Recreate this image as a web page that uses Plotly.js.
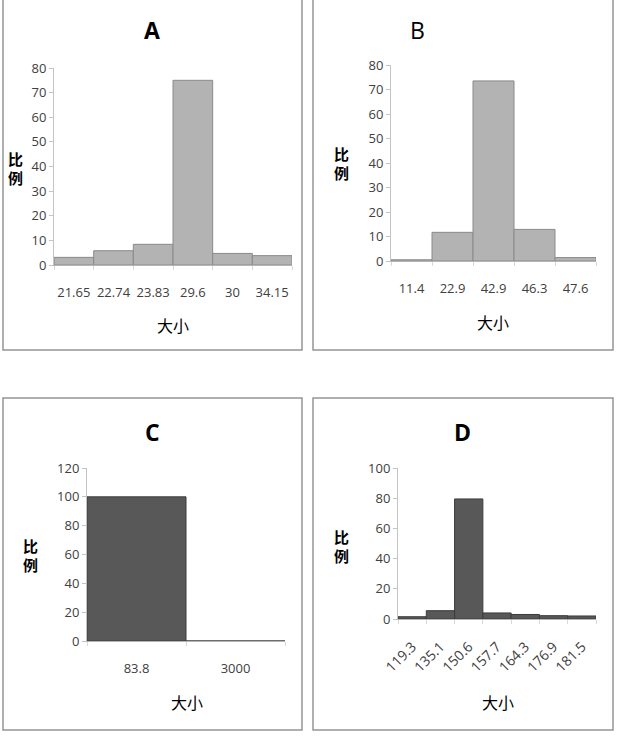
<!DOCTYPE html>
<html>
<head>
<meta charset="utf-8">
<script src="https://cdn.plot.ly/plotly-3.0.1.min.js"></script>
<style>
html,body{margin:0;padding:0;background:#fff;}
#chart{width:619px;height:737px;}
</style>
</head>
<body>
<div id="chart"></div>
<script>
// ---- data ----
const catsA = ['21.65', '22.74', '23.83', '29.6', '30', '34.15'];
const valsA = [3.1, 5.8, 8.4, 75, 4.7, 3.8];

const catsB = ['11.4', '22.9', '42.9', '46.3', '47.6'];
const valsB = [0.5, 11.7, 73.5, 12.9, 1.4];

const catsC = ['83.8', '3000'];
const valsC = [100, 0];

const catsD = ['119.3', '135.1', '150.6', '157.7', '164.3', '176.9', '181.5'];
const valsD = [1.5, 5.5, 79.5, 4, 3, 2.2, 2];

const panelTitles = ['A', 'B', 'C', 'D'];
const xTitle = '大小';
const yTitleChars = ['比', '例'];

// ---- layout helpers ----
const W = 619, H = 737;
const px = v => v / W;
const py = v => 1 - v / H;

const tickFont = {family: 'Open Sans, Noto Sans, sans-serif', size: 13, color: '#404040'};
const cjkFont = {family: 'Noto Sans CJK SC, sans-serif', size: 16, color: '#000'};

function xax(x0, x1, angle) {
  return {
    type: 'category',
    domain: [px(x0), px(x1)],
    showline: true, linecolor: '#b4b4b4', linewidth: 1,
    ticks: 'outside', tickson: 'boundaries', ticklen: 4, tickcolor: '#d8d8d8',
    showgrid: false, zeroline: false,
    tickfont: angle ? Object.assign({}, tickFont, {size: 14}) : tickFont,
    tickangle: angle,
    ticklabelstandoff: angle ? 13 : 15,
    fixedrange: true
  };
}
function yax(y0pix, ytopPix, maxv, dt) {
  return {
    domain: [py(y0pix), py(ytopPix)],
    range: [0, maxv],
    dtick: dt,
    showline: true, linecolor: '#c4c4c4', linewidth: 1,
    ticks: 'outside', ticklen: 4, tickcolor: '#c4c4c4',
    showgrid: false, zeroline: false,
    tickfont: tickFont,
    fixedrange: true
  };
}

const lightBar = {color: '#b3b3b3', line: {color: '#8a8a8a', width: 1}};
const darkBar = {color: '#585858', line: {color: '#3c3c3c', width: 1}};

const traces = [
  {type: 'bar', x: catsA, y: valsA, xaxis: 'x', yaxis: 'y', marker: lightBar, width: 1},
  {type: 'bar', x: catsB, y: valsB, xaxis: 'x2', yaxis: 'y2', marker: lightBar, width: 1},
  {type: 'bar', x: catsC, y: valsC, xaxis: 'x3', yaxis: 'y3', marker: darkBar, width: 1},
  {type: 'bar', x: catsD, y: valsD, xaxis: 'x4', yaxis: 'y4', marker: darkBar, width: 1}
];

const xa1 = xax(54, 292, 0); xa1.anchor = 'y';
const xa2 = xax(391, 596, 0); xa2.anchor = 'y2';
const xa3 = xax(87, 285, 0); xa3.anchor = 'y3';
const xa4 = xax(398, 596, -45); xa4.anchor = 'y4';
const ya1 = yax(265, 68, 80, 10); ya1.anchor = 'x';
const ya2 = yax(261, 65, 80, 10); ya2.anchor = 'x2';
const ya3 = yax(641, 468, 120, 20); ya3.anchor = 'x3';
const ya4 = yax(619, 468, 100, 20); ya4.anchor = 'x4';

function ann(text, x, y, font) {
  return {text: text, x: px(x), y: py(y), xref: 'paper', yref: 'paper',
          xanchor: 'center', yanchor: 'middle', showarrow: false, font: font};
}

const titleBold = {family: 'Open Sans, Noto Sans, sans-serif', size: 23, color: '#000', weight: 'bold'};
const titleReg = {family: 'Open Sans, Noto Sans, sans-serif', size: 23, color: '#000'};
const yTitleFont = Object.assign({}, cjkFont, {size: 15, weight: 'bold'});

const annotations = [
  ann(panelTitles[0], 152, 30, titleBold),
  ann(panelTitles[1], 417, 30, titleReg),
  ann(panelTitles[2], 152, 432, titleBold),
  ann(panelTitles[3], 462, 432, titleBold),
  ann(xTitle, 173, 325, cjkFont),
  ann(xTitle, 493, 322, cjkFont),
  ann(xTitle, 187, 702, cjkFont),
  ann(xTitle, 498, 702, cjkFont)
];
// stacked vertical y titles (one glyph per line)
[[15, 167], [341, 163], [30, 554], [341, 545]].forEach(function (p) {
  annotations.push(ann(yTitleChars[0], p[0], p[1] - 9, yTitleFont));
  annotations.push(ann(yTitleChars[1], p[0], p[1] + 10, yTitleFont));
});

function box(x0, y0, x1, y1) {
  return {type: 'rect', xref: 'paper', yref: 'paper',
          x0: px(x0), x1: px(x1), y0: py(y1), y1: py(y0),
          line: {color: '#959595', width: 1.5}, fillcolor: 'rgba(0,0,0,0)', layer: 'below'};
}
const shapes = [
  box(3, -2, 302, 350),
  box(313, -2, 613, 350),
  box(3, 398, 302, 730),
  box(313, 398, 613, 730)
];

const layout = {
  width: W, height: H,
  margin: {l: 0, r: 0, t: 0, b: 0},
  paper_bgcolor: '#fff', plot_bgcolor: 'rgba(0,0,0,0)',
  showlegend: false,
  bargap: 0,
  xaxis: xa1, yaxis: ya1,
  xaxis2: xa2, yaxis2: ya2,
  xaxis3: xa3, yaxis3: ya3,
  xaxis4: xa4, yaxis4: ya4,
  annotations: annotations,
  shapes: shapes
};

Plotly.newPlot('chart', traces, layout, {displayModeBar: false, staticPlot: true});
</script>
</body>
</html>
